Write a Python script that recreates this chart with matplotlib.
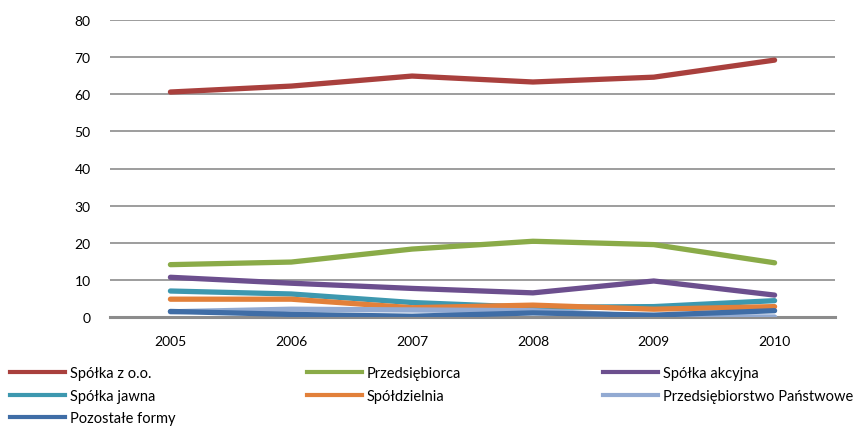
import matplotlib.pyplot as plt
from matplotlib.lines import Line2D

plt.rcParams['font.family'] = ['Lato', 'DejaVu Sans']

years = ['2005', '2006', '2007', '2008', '2009', '2010']

spolka_zoo = [60.6, 62.2, 64.9, 63.3, 64.6, 69.2]
przedsiebiorca = [14.1, 14.8, 18.3, 20.4, 19.5, 14.6]
spolka_akcyjna = [10.7, 9.1, 7.7, 6.5, 9.7, 5.9]
spolka_jawna = [7.0, 6.2, 3.9, 2.6, 2.8, 4.4]
spoldzielnia = [4.8, 4.8, 2.5, 3.2, 2.1, 2.8]
przeds_panstwowe = [1.4, 2.1, 1.9, 1.7, 0.1, 0.0]
pozostale = [1.5, 0.7, 0.2, 1.1, 0.5, 1.7]

names = ['Spółka z o.o.', 'Przedsiębiorca', 'Spółka akcyjna',
         'Spółka jawna', 'Spółdzielnia', 'Przedsiębiorstwo Państwowe',
         'Pozostałe formy']
series = [spolka_zoo, przedsiebiorca, spolka_akcyjna, spolka_jawna,
          spoldzielnia, przeds_panstwowe, pozostale]
colors = ['#A9403D', '#8AAB48', '#6C4F8E', '#3D98AF',
          '#E2803A', '#92AAD2', '#3F6DA6']

fig = plt.figure(figsize=(8.55, 4.27), dpi=100)
ax = fig.add_axes([110/855, 1-318/427, 725/855, 297/427])

x = range(len(years))
for vals, c, n in zip(series, colors, names):
    ax.plot(x, vals, color=c, lw=3.8, solid_capstyle='round',
            solid_joinstyle='round', label=n, zorder=3)

ax.set_xlim(-0.5, 5.5)
ax.set_ylim(0, 80)
ax.set_yticks(range(0, 81, 10))
ax.set_xticks(list(x))
ax.set_xticklabels(years)
for s in ax.spines.values():
    s.set_visible(False)
ax.tick_params(length=0, labelsize=10, colors='black')
ax.tick_params(axis='x', pad=13)
ax.tick_params(axis='y', pad=14)
for v in range(10, 81, 10):
    ax.axhline(v, color='#8c8c8c', lw=1.2, zorder=1)
ax.axhline(0, color='#8c8c8c', lw=2.2, zorder=1, clip_on=False)

handles = [Line2D([], [], color=c, lw=3) for c in colors]
cols = [[0, 3, 6], [1, 4], [2, 5]]
xpos = [10/855, 307/855, 603/855]
for idx, xp in zip(cols, xpos):
    fig.legend([handles[i] for i in idx], [names[i] for i in idx],
               loc='upper left', bbox_to_anchor=(xp, 1-367/427),
               frameon=False, fontsize=10.5, handlelength=3.8,
               handletextpad=0.3, labelspacing=0.6, borderaxespad=0,
               borderpad=0)

fig.savefig('out.png', dpi=100)
